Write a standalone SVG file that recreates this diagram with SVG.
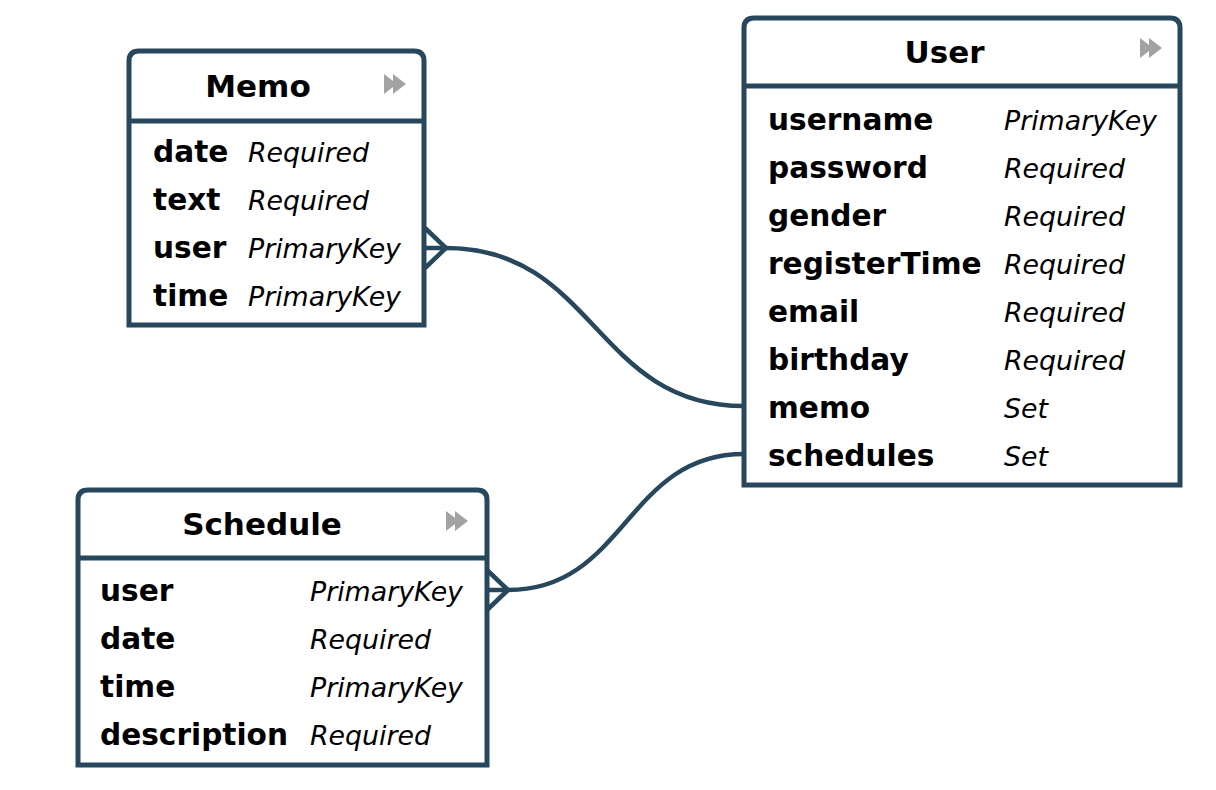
<svg xmlns="http://www.w3.org/2000/svg" width="1216" height="790" viewBox="0 0 1216 790">
<style>
.box{fill:#fff;stroke:#27475c;stroke-width:5}
.sep{stroke:#27475c;stroke-width:5}
.title{font-family:"DejaVu Sans",Verdana,sans-serif;font-weight:bold;font-size:31px;fill:#000;text-anchor:middle}
.name{font-family:"DejaVu Sans",Verdana,sans-serif;font-weight:bold;font-size:29.6px;fill:#000}
.type{font-family:"DejaVu Sans",Verdana,sans-serif;font-style:italic;font-size:26.8px;fill:#000}
.icon{fill:#a3a3a3}
.conn{fill:none;stroke:#27475c;stroke-width:4.5}
</style>
<defs>
<g id="ico"><path class="icon" d="M0 -10 L13 0 L0 10 Z M9 -10 L22 0 L9 10 Z"/></g>
</defs>
<g id="connectors">
<path class="conn" d="M425 248 L446 248 C595 248 595 406 744 406"/>
<path class="conn" d="M425 228 L446 248 L425 268"/>
<path class="conn" d="M487 590 L508 590 C626 590 626 454 744 454"/>
<path class="conn" d="M487 570 L508 590 L487 610"/>
</g>
<g id="memo">
<path class="box" d="M129 325 L129 61 Q129 51 139 51 L414 51 Q424 51 424 61 L424 325 Z"/>
<line class="sep" x1="129" y1="121" x2="424" y2="121"/>
<text class="title" x="258" y="97">Memo</text>
<use href="#ico" x="384" y="84"/>
<text class="name" x="153" y="162">date</text><text class="type" x="248" y="162">Required</text>
<text class="name" x="153" y="210">text</text><text class="type" x="248" y="210">Required</text>
<text class="name" x="153" y="258">user</text><text class="type" x="248" y="258">PrimaryKey</text>
<text class="name" x="153" y="306">time</text><text class="type" x="248" y="306">PrimaryKey</text>
</g>
<g id="user">
<path class="box" d="M744 485 L744 28 Q744 18 754 18 L1170 18 Q1180 18 1180 28 L1180 485 Z"/>
<line class="sep" x1="744" y1="86" x2="1180" y2="86"/>
<text class="title" x="944.5" y="63">User</text>
<use href="#ico" x="1140" y="48"/>
<text class="name" x="768" y="130">username</text><text class="type" x="1004" y="130">PrimaryKey</text>
<text class="name" x="768" y="178">password</text><text class="type" x="1004" y="178">Required</text>
<text class="name" x="768" y="226">gender</text><text class="type" x="1004" y="226">Required</text>
<text class="name" x="768" y="274">registerTime</text><text class="type" x="1004" y="274">Required</text>
<text class="name" x="768" y="322">email</text><text class="type" x="1004" y="322">Required</text>
<text class="name" x="768" y="370">birthday</text><text class="type" x="1004" y="370">Required</text>
<text class="name" x="768" y="418">memo</text><text class="type" x="1004" y="418">Set</text>
<text class="name" x="768" y="466">schedules</text><text class="type" x="1004" y="466">Set</text>
</g>
<g id="schedule">
<path class="box" d="M78 765 L78 500 Q78 490 88 490 L477 490 Q487 490 487 500 L487 765 Z"/>
<line class="sep" x1="78" y1="558" x2="487" y2="558"/>
<text class="title" x="262" y="535">Schedule</text>
<use href="#ico" x="446" y="521"/>
<text class="name" x="100" y="601">user</text><text class="type" x="310" y="601">PrimaryKey</text>
<text class="name" x="100" y="649">date</text><text class="type" x="310" y="649">Required</text>
<text class="name" x="100" y="697">time</text><text class="type" x="310" y="697">PrimaryKey</text>
<text class="name" x="100" y="745">description</text><text class="type" x="310" y="745">Required</text>
</g>
</svg>
